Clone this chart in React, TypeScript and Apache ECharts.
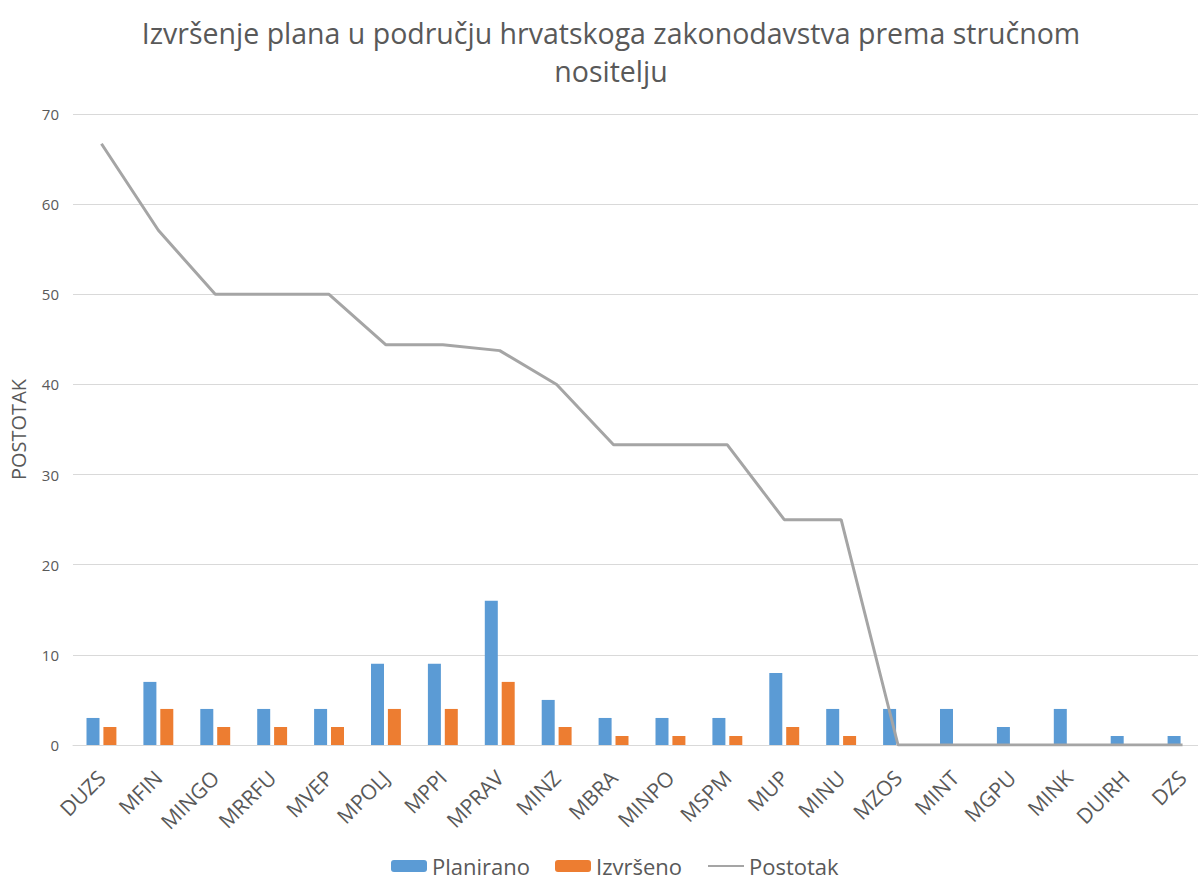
import React, { useEffect, useRef } from "react";
import * as echarts from "echarts";

const categories = ["DUZS","MFIN","MINGO","MRRFU","MVEP","MPOLJ","MPPI","MPRAV","MINZ","MBRA","MINPO","MSPM","MUP","MINU","MZOS","MINT","MGPU","MINK","DUIRH","DZS"];
const planirano = [3,7,4,4,4,9,9,16,5,3,3,3,8,4,4,4,2,4,1,1];
const izvrseno = [2,4,2,2,2,4,4,7,2,1,1,1,2,1,0,0,0,0,0,0];
const postotak = [66.7,57.1,50,50,50,44.4,44.4,43.75,40,33.3,33.3,33.3,25,25,0,0,0,0,0,0];
const titleText = "Izvršenje plana u području hrvatskoga zakonodavstva prema stručnom\nnositelju";

export default function App() {
  const ref = useRef<HTMLDivElement>(null);
  useEffect(() => {
    document.body.style.margin = "0";
    const chart = echarts.init(ref.current!, null, { renderer: "svg" });
    const txt = "#595959";
    const font = "'Open Sans', sans-serif";
    chart.setOption({
      animation: false,
      textStyle: { fontFamily: font },
      title: {
        text: titleText,
        left: 606,
        textAlign: "center",
        top: 9,
        textStyle: { fontSize: 28.5, fontWeight: "normal", color: txt, lineHeight: 38, fontFamily: font },
      },
      legend: {
        bottom: 0,
        left: 386,
        itemWidth: 36,
        itemHeight: 12,
        itemGap: 25,
        textStyle: { fontSize: 22, color: txt, fontFamily: font },
        data: ["Planirano", "Izvršeno", { name: "Postotak", itemStyle: { opacity: 0 } }],
      },
      grid: { left: 73, width: 1138, top: 114, bottom: 137, outerBoundsMode: "none", containLabel: false },
      xAxis: {
        type: "category",
        data: categories,
        axisLine: { lineStyle: { color: "#D9D9D9", width: 1 } },
        axisTick: { show: false },
        axisLabel: { rotate: 45, fontSize: 21, color: txt, margin: 29, interval: 0, fontFamily: font },
      },
      yAxis: {
        type: "value",
        min: 0,
        max: 70,
        interval: 10,
        name: "POSTOTAK",
        nameLocation: "middle",
        nameRotate: 90,
        nameGap: 45,
        nameTextStyle: { fontSize: 20, color: txt, fontFamily: font },
        axisLine: { show: false },
        axisTick: { show: false },
        axisLabel: { fontSize: 15, color: txt, margin: 14, fontFamily: font },
        splitLine: { lineStyle: { color: "#D9D9D9", width: 1 } },
      },
      series: [
        {
          name: "Planirano",
          type: "bar",
          data: planirano,
          barWidth: 13,
          barGap: "30%",
          itemStyle: { color: "#5B9BD5" },
        },
        {
          name: "Izvršeno",
          type: "bar",
          data: izvrseno,
          barWidth: 13,
          barGap: "30%",
          itemStyle: { color: "#ED7D31" },
        },
        {
          name: "Postotak",
          type: "line",
          data: postotak,
          symbol: "none",
          lineStyle: { color: "#A5A5A5", width: 3 },
          itemStyle: { color: "#A5A5A5" },
        },
      ],
    });
    return () => chart.dispose();
  }, []);
  return <div ref={ref} style={{ width: 1198, height: 882 }} />;
}
